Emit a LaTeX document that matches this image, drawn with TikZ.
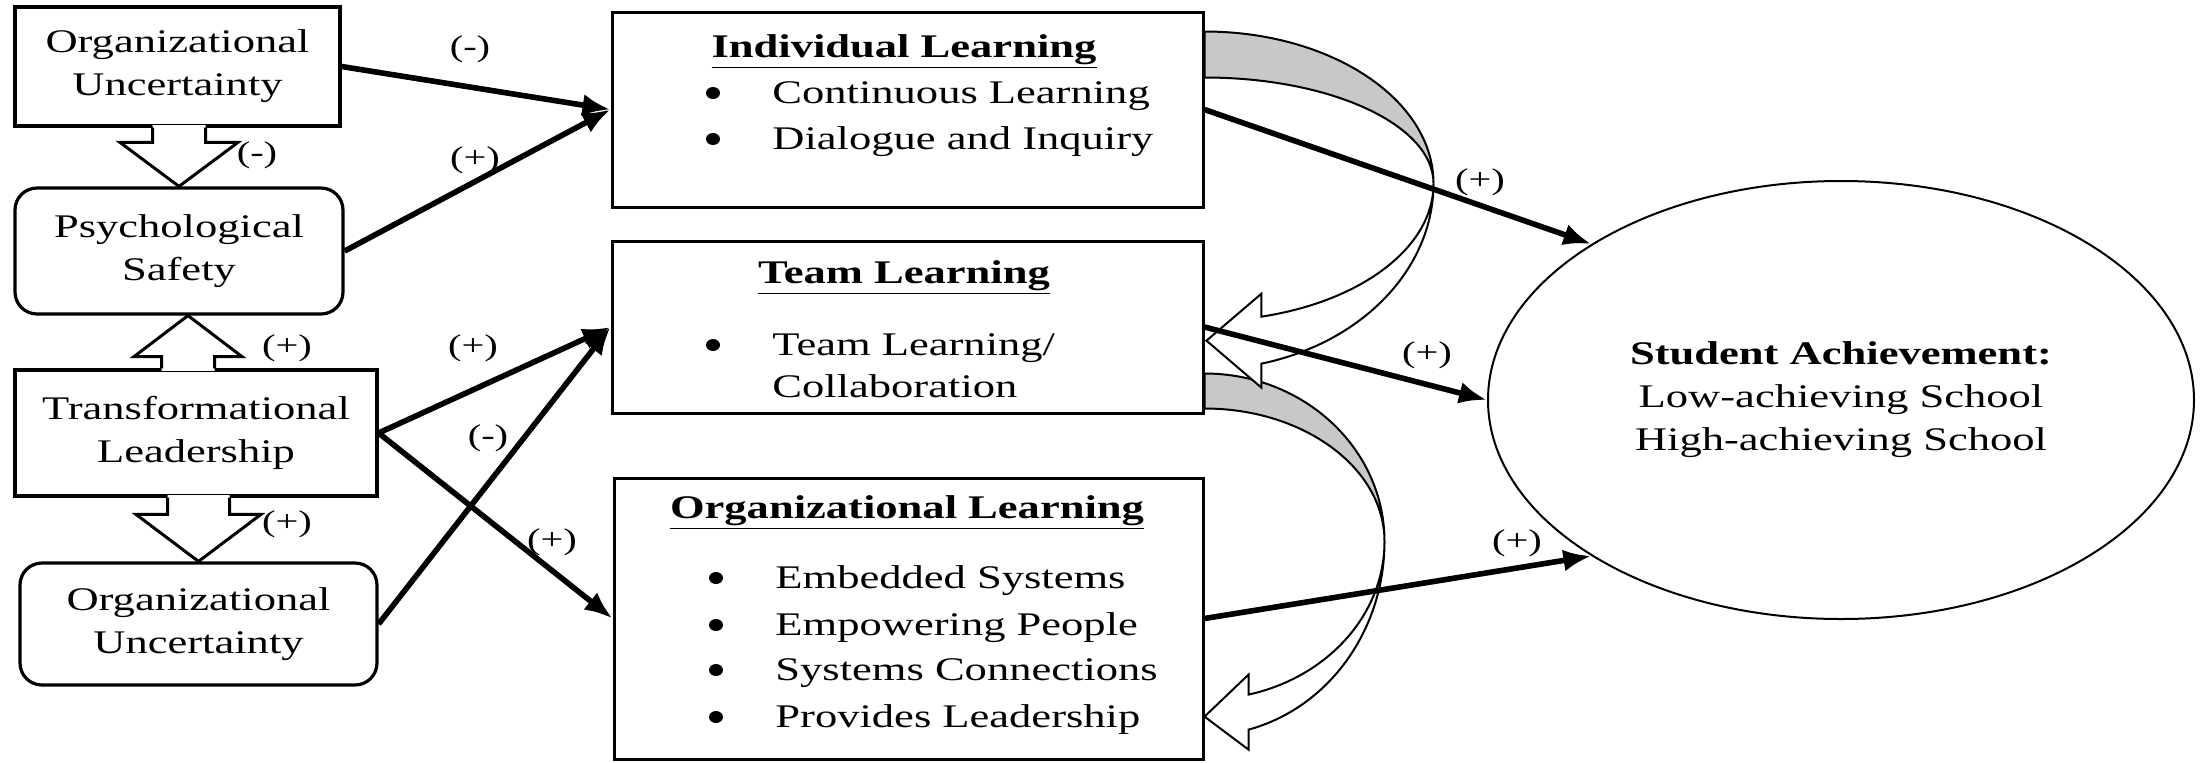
\documentclass[tikz,border=0pt]{standalone}
\usepackage{fontspec}
\setmainfont{Liberation Serif}[FakeStretch=1.35]
\usetikzlibrary{arrows.meta,calc,shapes.geometric}
\definecolor{backgray}{RGB}{200,200,200}

% hollow block arrow: tip, stem root, half stem, half head, head offset, overlap into root
\newcommand{\blockarrow}[6]{%
  \fill[white] ($(#1 |- #2)+(#3,#6)$) -- ($(#1)+(#3,#5)$) -- ($(#1)+(#4,#5)$) -- (#1)
    -- ($(#1)+(-#4,#5)$) -- ($(#1)+(-#3,#5)$) -- ($(#1 |- #2)+(-#3,#6)$) -- cycle;
  \draw[blk] ($(#1 |- #2)+(#3,0)$) -- ($(#1)+(#3,#5)$) -- ($(#1)+(#4,#5)$) -- (#1)
    -- ($(#1)+(-#4,#5)$) -- ($(#1)+(-#3,#5)$) -- ($(#1 |- #2)+(-#3,0)$);}

\begin{document}
\begin{tikzpicture}[x=0.5pt, y=-0.5pt,
  font=\fontsize{16.5}{21.5}\selectfont, >={Latex[length=14pt,width=11pt]},
  sq/.style={draw, line width=1.6pt, align=center, inner sep=0pt},
  rnd/.style={sq, rounded corners=11pt},
  lst/.style={draw, line width=1.5pt, inner sep=0pt},
  ach/.style={ellipse, draw, line width=1pt, align=center, inner sep=0pt},
  lnk/.style={->, line width=2.8pt},
  blk/.style={line width=1.5pt, line join=miter},
  band/.style={line width=1pt},
  sgn/.style={font=\fontsize{15}{15}\selectfont, inner sep=0pt},
  hd/.style={anchor=base, inner sep=0pt, font=\fontsize{16.5}{21.5}\selectfont\bfseries},
  itm/.style={anchor=base west, inner sep=0pt},
  dot/.style={ellipse, fill, inner sep=0pt, minimum width=7pt, minimum height=6pt},
]
\useasboundingbox (0,0) rectangle (2201,762);
% antecedents
\node[sq, minimum width=162.5pt, minimum height=59.5pt] (ou1) at (177.5,66.5) {Organizational\\Uncertainty};
\node[rnd, minimum width=164pt, minimum height=63pt] (ps) at (179,251) {Psychological\\Safety};
\node[sq, minimum width=181pt, minimum height=63pt] (tl) at (196,433) {Transformational\\Leadership};
\node[rnd, minimum width=178.5pt, minimum height=61pt] (ou2) at (198.5,624) {Organizational\\Uncertainty};
% learning levels
\node[lst, minimum width=295.5pt, minimum height=97.5pt] (il) at (907.5,109.5) {};
\node[lst, minimum width=295.5pt, minimum height=86pt] (team) at (907.5,327) {};
\node[lst, minimum width=294.5pt, minimum height=140.5pt] (ol) at (908.5,618.5) {};
\node[hd] (il-h) at (904,57) {\underline{Individual Learning}};
\node[hd] (team-h) at (904,283) {\underline{Team Learning}};
\node[hd] (ol-h) at (907,518) {\underline{Organizational Learning}};
\foreach \n/\t/\x/\y in {il-1/{Continuous Learning}/772/103,
    il-2/{Dialogue and Inquiry}/772/149, team-1/{Team Learning/}/772/355,
    ol-1/{Embedded Systems}/775/588, ol-2/{Empowering People}/775/635,
    ol-3/{Systems Connections}/775/680, ol-4/{Provides Leadership}/775/727} {
  \node[itm] (\n) at (\x,\y) {\t};
  \node[dot] (\n-b) at (\x-59,\y-10) {};
}
\node[itm] (team-2) at (772,397) {Collaboration};
% outcome
\node[ach, minimum width=353pt, minimum height=219pt] (ach) at (1841,400)
  {\textbf{Student Achievement:}\\Low-achieving School\\High-achieving School};
% team -> organizational, back then front
\filldraw[band, fill=backgray] ($(team.south east)+(0,-41)$)
  arc[start angle=-90, end angle=0, x radius=180, y radius=168]
  arc[start angle=0, end angle=-90, x radius=180, y radius=133] -- cycle;
\filldraw[band, fill=white] ($(team.south east)+(180,127)$)
  arc[start angle=0, end angle=75.85, x radius=180, y radius=194]
  -- ++(0,20) -- ++(-44,-33) -- ++(44,-42) -- ++(0,20)
  arc[start angle=75.85, end angle=0, x radius=180, y radius=158] -- cycle;
% individual -> team
\filldraw[band, fill=backgray] ($(il.north east)+(0,21)$)
  arc[start angle=-90, end angle=0, x radius=229, y radius=152]
  arc[start angle=0, end angle=-90, x radius=229, y radius=106] -- cycle;
\filldraw[band, fill=white] ($(il.north east)+(229,173)$)
  arc[start angle=0, end angle=75.6, x radius=229, y radius=186]
  -- ++(0,24) -- ++(-55,-47) -- ++(55,-47) -- ++(0,23)
  arc[start angle=75.6, end angle=0, x radius=229, y radius=137] -- cycle;
% block arrows in the left column
\coordinate (psin) at ($(ps.south)+(9,0)$);
\blockarrow{ps.north}{ou1.south}{26.5}{59}{-44}{-2.5}
\blockarrow{psin}{tl.north}{26.5}{54}{41}{2.5}
\blockarrow{ou2.north}{tl.south}{31}{62.5}{-47}{-2.5}
% paths
\draw[lnk] (ou1.east) -- (il.west);
\draw[lnk] (ps.east) -- (il.west);
\draw[lnk] (tl.east) -- (team.west);
\draw[lnk] (ou2.east) -- (team.west);
\draw[lnk] (tl.east) -- (ol.west);
\draw[lnk] (il.east) -- (ach.148);
\draw[lnk] (team.east) -- (ach.180);
\draw[lnk] (ol.east) -- (ach.212);
% signs
\foreach \n/\s/\x/\y in {s1/{(-)}/470/49, s2/{(+)}/475/160, s3/{(-)}/257/155,
    s4/{(+)}/287/348, s5/{(+)}/473/348, s6/{(-)}/488/438, s7/{(+)}/287/524,
    s8/{(+)}/552/542, s9/{(+)}/1480/182, s10/{(+)}/1427/355, s11/{(+)}/1517/543} {
  \node[sgn] (\n) at (\x,\y) {\s};
}
\end{tikzpicture}
\end{document}
